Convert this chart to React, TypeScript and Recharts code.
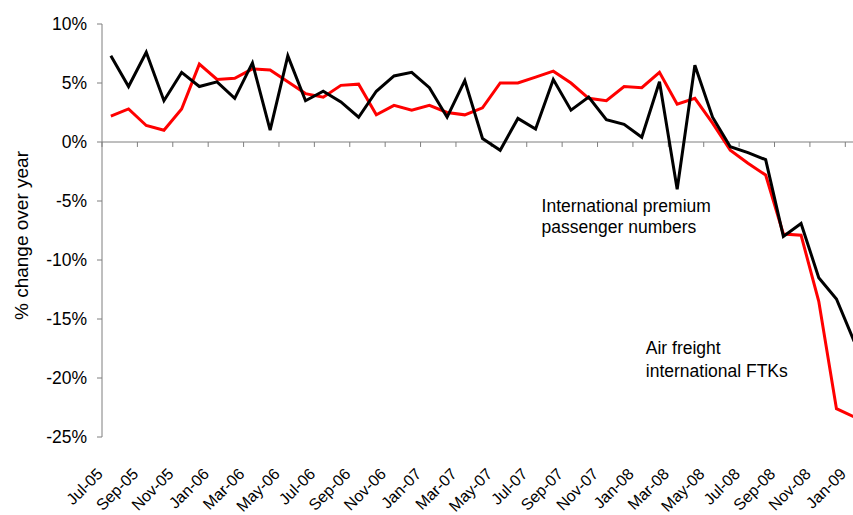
import { LineChart, Line, XAxis, YAxis, ReferenceLine, ReferenceDot } from "recharts";

const months = [
  "Jul-05", "Aug-05", "Sep-05", "Oct-05", "Nov-05", "Dec-05",
  "Jan-06", "Feb-06", "Mar-06", "Apr-06", "May-06", "Jun-06",
  "Jul-06", "Aug-06", "Sep-06", "Oct-06", "Nov-06", "Dec-06",
  "Jan-07", "Feb-07", "Mar-07", "Apr-07", "May-07", "Jun-07",
  "Jul-07", "Aug-07", "Sep-07", "Oct-07", "Nov-07", "Dec-07",
  "Jan-08", "Feb-08", "Mar-08", "Apr-08", "May-08", "Jun-08",
  "Jul-08", "Aug-08", "Sep-08", "Oct-08", "Nov-08", "Dec-08",
  "Jan-09"
];

// international premium passenger numbers, % change over year
const passengerNumbers = [
  7.3, 4.7, 7.6, 3.5, 5.9, 4.7, 5.1, 3.7, 6.7, 1.0, 7.3, 3.5, 4.3, 3.4,
  2.1, 4.3, 5.6, 5.9, 4.6, 2.1, 5.2, 0.3, -0.7, 2.0, 1.1, 5.3, 2.7,
  3.8, 1.9, 1.5, 0.4, 5.1, -4.0, 6.5, 2.1, -0.4, -0.9, -1.5, -8.0, -6.9,
  -11.5, -13.3, -16.9
];

// air freight international FTKs, % change over year
const freightFtks = [
  2.2, 2.8, 1.4, 1.0, 2.8, 6.6, 5.3, 5.4, 6.2, 6.1, 5.1, 4.1, 3.8, 4.8,
  4.9, 2.3, 3.1, 2.7, 3.1, 2.5, 2.3, 2.9, 5.0, 5.0, 5.5, 6.0, 5.0,
  3.7, 3.5, 4.7, 4.6, 5.9, 3.2, 3.7, 1.6, -0.7, -1.8, -2.8, -7.8, -7.9,
  -13.5, -22.6, -23.3
];

const yTicks = [-25, -20, -15, -10, -5, 0, 5, 10];
const tickMonths = months.filter((_, i) => i % 2 === 0);

const data = months.map((month, i) => ({
  month,
  passengers: passengerNumbers[i],
  freight: freightFtks[i]
}));

const font = "'Liberation Sans', Arial, sans-serif";
const axisGray = "#7f7f7f";

function MonthTick({ x, y, payload }: any) {
  const tx = x - 7;
  const ty = y + 38;
  return (
    <text
      x={tx}
      y={ty}
      transform={`rotate(-45, ${tx}, ${ty})`}
      textAnchor="end"
      fontSize={16}
      fontFamily={font}
      fill="#000"
    >
      {payload.value}
    </text>
  );
}

function note(lines: string[], dx: number, lineGap: number) {
  return ({ viewBox }: any) => (
    <text x={viewBox.x + dx} y={viewBox.y} fontSize={17.5} fontFamily={font} fill="#000">
      {lines.map((line, i) => (
        <tspan key={line} x={viewBox.x + dx} dy={i === 0 ? 0 : lineGap}>
          {line}
        </tspan>
      ))}
    </text>
  );
}

function yTitle({ viewBox }: any) {
  const cx = 28;
  const cy = viewBox.y + viewBox.height / 2 + 5;
  return (
    <text
      x={cx}
      y={cy}
      transform={`rotate(-90, ${cx}, ${cy})`}
      textAnchor="middle"
      fontSize={19}
      fontFamily={font}
      fill="#000"
    >
      % change over year
    </text>
  );
}

export default function App() {
  return (
    <div
      style={{
        position: "absolute",
        left: 0,
        top: 0,
        width: 853,
        height: 515,
        overflow: "hidden",
        background: "#fff"
      }}
    >
      <LineChart
        width={870}
        height={515}
        data={data}
        margin={{ top: 24, right: 7, left: 0, bottom: 28 }}
      >
        <XAxis
          dataKey="month"
          scale="band"
          interval={1}
          height={50}
          axisLine={false}
          tickLine={false}
          tickSize={0}
          tickMargin={0}
          tick={<MonthTick />}
        />
        <YAxis
          width={102}
          domain={[-25, 10]}
          ticks={yTicks}
          interval={0}
          tickFormatter={(v) => `${v}%`}
          stroke={axisGray}
          tickSize={5}
          tickMargin={10}
          tick={{ fontSize: 17.5, fontFamily: font, fill: "#000" }}
          label={yTitle}
        />
        <ReferenceLine y={0} stroke={axisGray} strokeWidth={1} />
        {tickMonths.map((m) => (
          <ReferenceLine
            key={m}
            segment={[
              { x: m, y: 0 },
              { x: m, y: -0.42 }
            ]}
            position="start"
            stroke={axisGray}
            strokeWidth={1}
          />
        ))}
        <Line
          dataKey="freight"
          stroke="#ff0000"
          strokeWidth={3}
          dot={false}
          activeDot={false}
          isAnimationActive={false}
        />
        <Line
          dataKey="passengers"
          stroke="#000000"
          strokeWidth={3}
          dot={false}
          activeDot={false}
          isAnimationActive={false}
        />
        <ReferenceDot
          x="Jul-07"
          y={-5.9}
          r={0}
          fill="none"
          stroke="none"
          label={note(["International premium", "passenger numbers"], 6, 21.5)}
        />
        <ReferenceDot
          x="Jan-08"
          y={-18}
          r={0}
          fill="none"
          stroke="none"
          label={note(["Air freight", "international FTKs"], 4, 23)}
        />
      </LineChart>
    </div>
  );
}
